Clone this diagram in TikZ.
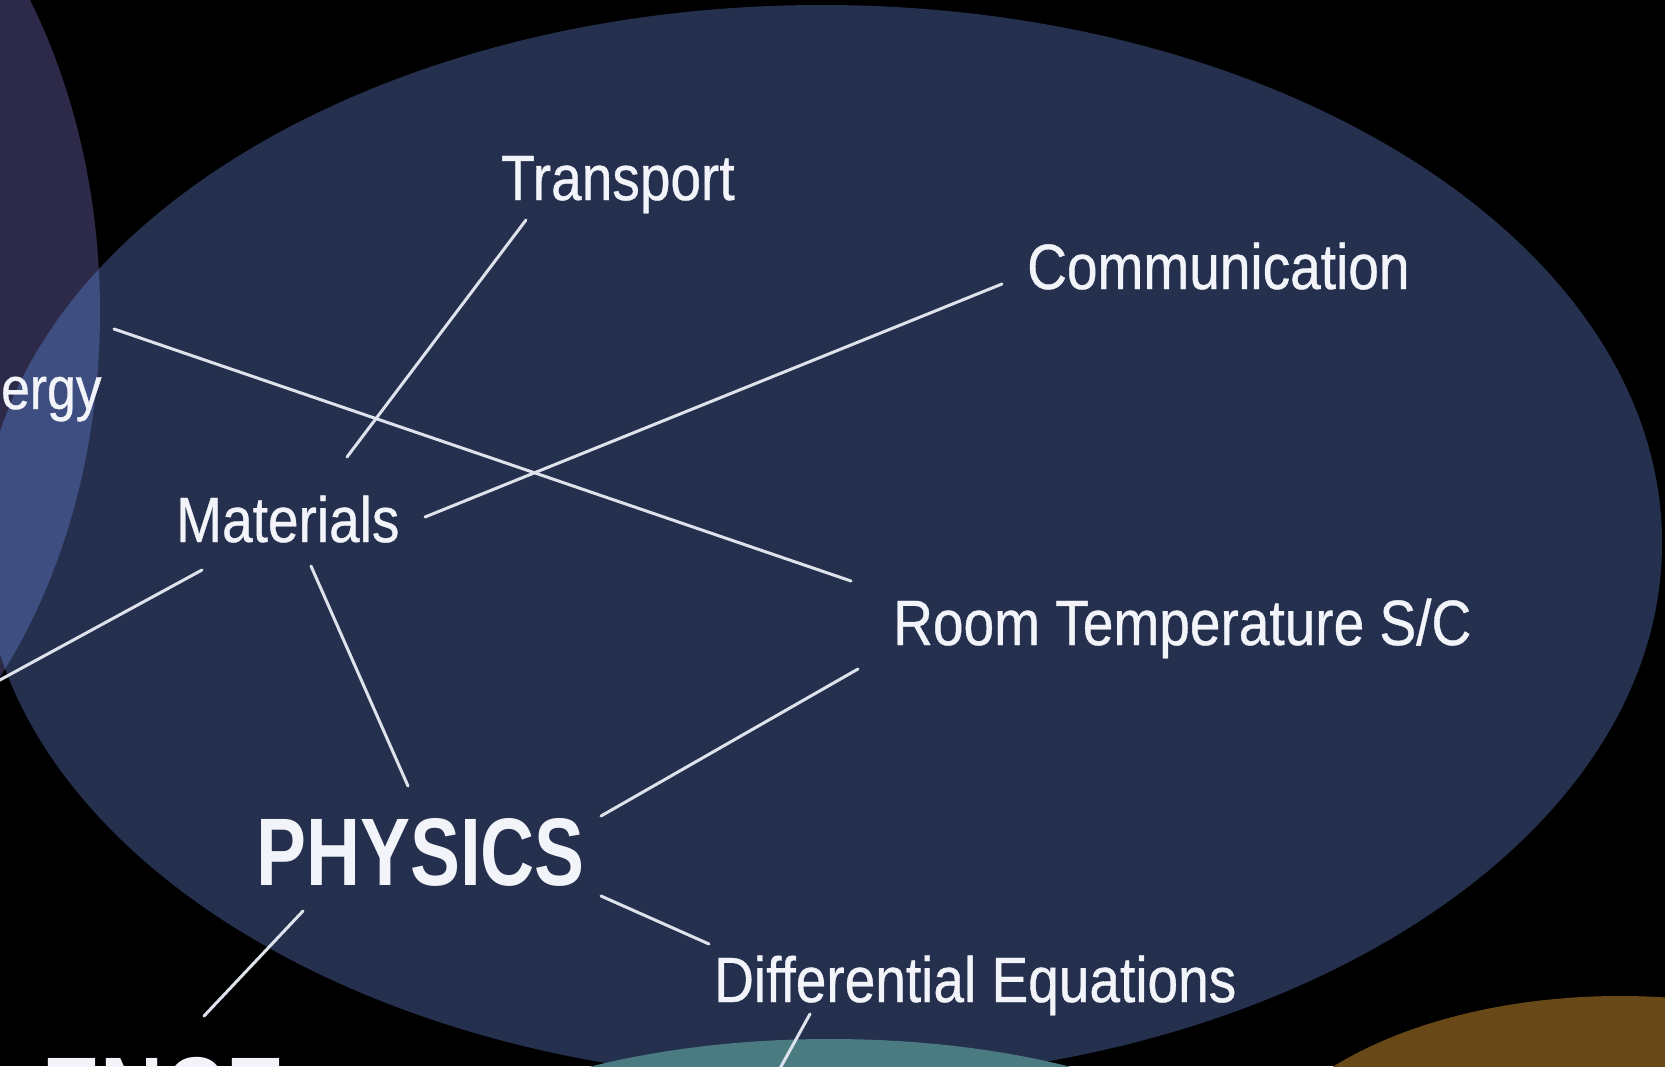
\documentclass[tikz,border=0pt]{standalone}
\usepackage{fontspec}
\setmainfont{Liberation Sans}[FakeStretch=0.86,FakeBold=0.6]
\newfontfamily\physfont{Liberation Sans}[FakeStretch=0.78]
\definecolor{blueell}{RGB}{36,48,77}
\definecolor{purpleell}{RGB}{45,41,72}
\definecolor{overlapc}{RGB}{62,78,128}
\definecolor{tealell}{RGB}{74,123,128}
\definecolor{orangeell}{RGB}{105,72,23}
\definecolor{linec}{RGB}{222,226,236}
\definecolor{textc}{RGB}{242,244,250}
\tikzset{
  lbl/.style={anchor=base west, inner sep=0pt, text=textc, font=\fontsize{64}{70}\selectfont},
  biglbl/.style={anchor=base west, inner sep=0pt, text=textc, font=\physfont\bfseries\fontsize{96}{100}\selectfont},
  conn/.style={draw=linec, line width=3pt, line cap=round}
}
\begin{document}
\begin{tikzpicture}[x=1pt,y={(0pt,-1pt)}]
\fill[black] (0,0) rectangle (1665,1066);
\useasboundingbox (0,0) rectangle (1665,1066);
\clip (0,0) rectangle (1665,1066);
% ellipses
\fill[blueell] (822,543) ellipse [x radius=840pt, y radius=538pt];
\fill[purpleell] (-300,312) ellipse [x radius=400pt, y radius=552pt];
\begin{scope}
  \clip (822,543) ellipse [x radius=840pt, y radius=538pt];
  \fill[overlapc] (-300,312) ellipse [x radius=400pt, y radius=552pt];
\end{scope}
\fill[tealell] (830,1219) ellipse [x radius=450pt, y radius=180pt];
\fill[orangeell] (1620,1201) ellipse [x radius=380pt, y radius=205pt];
% labels
\node[lbl] (transport) at (501,200) {Transport};
\node[lbl] (comm) at (1027,289) {Communication};
\node[lbl] (materials) at (176,542) {Materials};
\node[lbl] (roomtemp) at (893,645) {Room Temperature S/C};
\node[biglbl] (physics) at (256,885) {PHYSICS};
\node[lbl] (diffeq) at (714,1002) {Differential Equations};
\node[lbl, font=\fontsize{60}{66}\selectfont] (energy) at (1,409) {ergy};
\node[anchor=base east, inner sep=0pt, text=textc, font=\physfont\bfseries\fontsize{112}{116}\selectfont] (science) at (285,1135) {ENCE};
% connector end points
\coordinate (t1) at (526,220);  \coordinate (m1) at (347,457);
\coordinate (c1) at (1002,284); \coordinate (m2) at (425,517);
\coordinate (e1) at (114,329);  \coordinate (r1) at (851,581);
\coordinate (m3) at (202,570);  \coordinate (o1) at (-2,681);
\coordinate (m4) at (311,566);  \coordinate (p1) at (408,786);
\coordinate (p2) at (601,816);  \coordinate (r2) at (858,669);
\coordinate (p3) at (601,896);  \coordinate (d1) at (709,944);
\coordinate (p4) at (303,911);  \coordinate (s1) at (204,1016);
\coordinate (d2) at (810,1014); \coordinate (q1) at (778,1072);
% connectors
\draw[conn] (t1) -- (m1);
\draw[conn] (c1) -- (m2);
\draw[conn] (e1) -- (r1);
\draw[conn] (m3) -- (o1);
\draw[conn] (m4) -- (p1);
\draw[conn] (p2) -- (r2);
\draw[conn] (p3) -- (d1);
\draw[conn] (p4) -- (s1);
\draw[conn] (d2) -- (q1);
\end{tikzpicture}
\end{document}
